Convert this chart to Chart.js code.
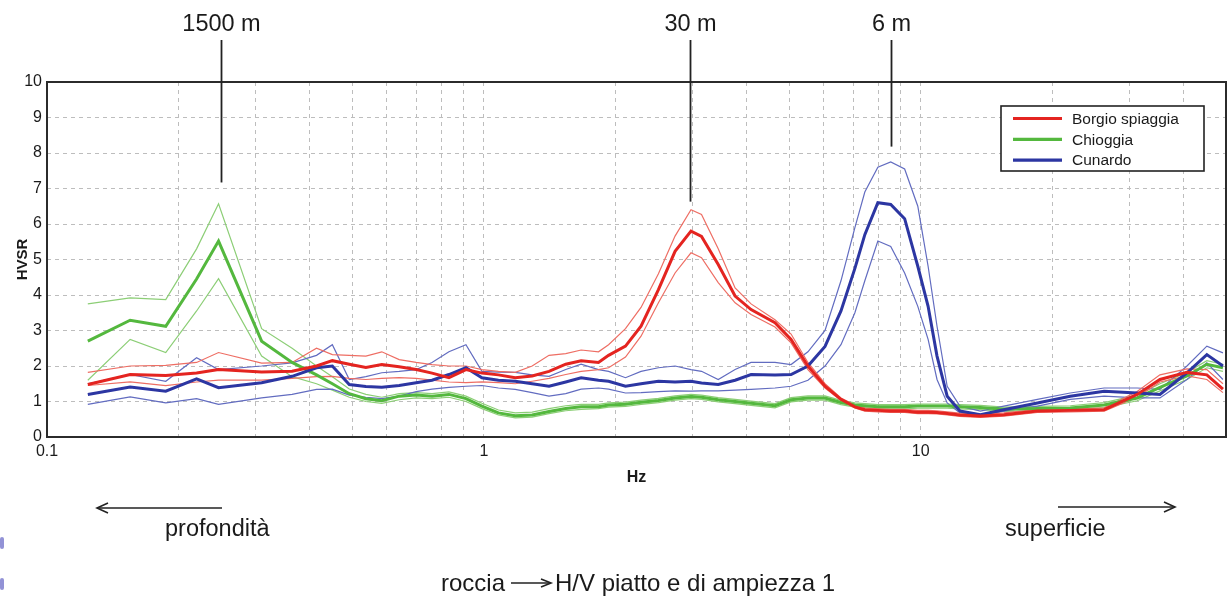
<!DOCTYPE html>
<html>
<head>
<meta charset="utf-8">
<script src="https://cdn.jsdelivr.net/npm/chart.js@4.4.1/dist/chart.umd.min.js"></script>
<style>
html,body{margin:0;padding:0;background:#fff;}
#wrap{position:relative;width:1231px;height:599px;overflow:hidden;font-family:"Liberation Sans",Arial,sans-serif;color:#1a1a1a;}
#c{position:absolute;left:0;top:0;}
.t{position:absolute;white-space:nowrap;line-height:1;font-size:23.5px;}
svg{position:absolute;left:0;top:0;}
.blob{position:absolute;background:rgba(110,110,200,0.75);border-radius:2px;}
</style>
</head>
<body>
<div id="wrap">
<canvas id="c" width="1231" height="599"></canvas>
<svg width="1231" height="599">
  <g stroke="#222" stroke-width="1.6" fill="none">
    <line x1="97" y1="508" x2="222" y2="508"/>
    <polyline points="108,503 97,508 108,513"/>
    <line x1="1058" y1="507" x2="1175" y2="507"/>
    <polyline points="1164,502 1175,507 1164,512"/>
    <line x1="511" y1="583" x2="550" y2="583"/>
    <polyline points="541,579 551,583 541,587"/>
  </g>
</svg>
<div class="t" style="left:165px;top:517px">profondità</div>
<div class="t" style="left:1005px;top:517px">superficie</div>
<div class="t" style="left:441px;top:571px;font-size:24px">roccia</div>
<div class="t" style="left:555px;top:571px;font-size:24px">H/V piatto e di ampiezza 1</div>
<div class="blob" style="left:0;top:537px;width:4px;height:12px"></div>
<div class="blob" style="left:0;top:578px;width:4px;height:12px"></div>
</div>
<script>
// ---- data ----
const freqHz = [0.124,0.155,0.187,0.220,0.247,0.310,0.364,0.414,0.450,0.492,0.537,0.584,0.640,0.700,0.761,0.832,0.910,0.990,1.08,1.18,1.29,1.41,1.54,1.67,1.83,1.93,2.11,2.29,2.51,2.74,2.98,3.15,3.44,3.76,4.09,4.64,5.05,5.52,6.04,6.57,7.07,7.45,7.98,8.54,9.19,9.85,10.4,10.9,11.5,12.3,13.7,15.5,18.5,22.0,26.3,31.3,35.3,40.7,45.2,49.2];

const redMean  = [1.48,1.76,1.73,1.80,1.90,1.83,1.85,2.00,2.15,2.05,1.96,2.04,1.98,1.90,1.80,1.67,1.90,1.80,1.75,1.67,1.72,1.85,2.05,2.15,2.10,2.30,2.56,3.12,4.15,5.23,5.80,5.65,4.86,3.97,3.59,3.22,2.75,2.00,1.43,1.06,0.85,0.77,0.75,0.73,0.73,0.70,0.70,0.69,0.66,0.62,0.59,0.63,0.73,0.75,0.77,1.20,1.62,1.82,1.75,1.35];
const redUpper = [1.82,2.00,2.02,2.10,2.38,2.08,2.10,2.50,2.32,2.30,2.28,2.40,2.18,2.10,2.04,2.00,2.00,1.90,1.85,1.82,2.00,2.30,2.35,2.45,2.40,2.60,3.05,3.65,4.60,5.66,6.40,6.27,5.30,4.20,3.75,3.30,2.90,2.10,1.50,1.10,0.90,0.82,0.80,0.78,0.78,0.75,0.75,0.74,0.71,0.67,0.64,0.68,0.78,0.80,0.82,1.28,1.75,1.92,1.90,1.50];
const redLower = [1.45,1.55,1.45,1.55,1.60,1.60,1.65,1.70,1.71,1.65,1.62,1.65,1.67,1.65,1.60,1.55,1.53,1.55,1.53,1.50,1.57,1.65,1.76,1.85,1.90,1.95,2.25,2.84,3.78,4.62,5.19,5.05,4.35,3.78,3.45,3.10,2.65,1.90,1.38,1.03,0.82,0.73,0.71,0.69,0.69,0.66,0.66,0.65,0.62,0.58,0.55,0.59,0.69,0.71,0.73,1.12,1.55,1.72,1.62,1.25];

const greenMean  = [2.70,3.29,3.12,4.45,5.52,2.70,2.10,1.75,1.50,1.22,1.08,1.02,1.15,1.18,1.15,1.20,1.08,0.87,0.68,0.60,0.62,0.72,0.80,0.85,0.85,0.90,0.92,0.98,1.03,1.10,1.14,1.12,1.05,1.00,0.95,0.88,1.05,1.10,1.10,0.97,0.90,0.88,0.85,0.85,0.85,0.87,0.87,0.87,0.87,0.85,0.83,0.78,0.80,0.82,0.90,1.10,1.40,1.72,2.05,1.95];
const greenUpper = [3.75,3.92,3.87,5.30,6.57,3.05,2.50,2.00,1.70,1.35,1.20,1.12,1.22,1.25,1.22,1.27,1.15,0.95,0.76,0.68,0.70,0.80,0.88,0.92,0.92,0.96,0.98,1.04,1.09,1.16,1.20,1.18,1.11,1.06,1.01,0.94,1.11,1.16,1.16,1.03,0.96,0.94,0.91,0.91,0.91,0.93,0.93,0.93,0.93,0.91,0.89,0.84,0.86,0.88,0.97,1.18,1.50,1.82,2.15,2.05];
const greenLower = [1.60,2.75,2.38,3.55,4.46,2.28,1.70,1.50,1.32,1.12,1.00,0.95,1.05,1.10,1.08,1.12,1.00,0.80,0.62,0.54,0.56,0.66,0.74,0.78,0.80,0.84,0.86,0.92,0.97,1.04,1.08,1.06,0.99,0.94,0.89,0.82,0.99,1.04,1.04,0.91,0.84,0.82,0.79,0.79,0.79,0.81,0.81,0.81,0.81,0.79,0.77,0.72,0.74,0.76,0.83,1.02,1.30,1.62,1.95,1.85];

const blueMean  = [1.20,1.41,1.29,1.64,1.39,1.53,1.71,1.95,2.00,1.48,1.42,1.40,1.45,1.53,1.60,1.76,1.95,1.67,1.60,1.57,1.50,1.43,1.55,1.67,1.60,1.57,1.43,1.50,1.57,1.55,1.57,1.52,1.48,1.60,1.76,1.75,1.76,2.00,2.55,3.55,4.75,5.70,6.60,6.55,6.15,4.81,3.68,2.28,1.15,0.73,0.63,0.77,0.96,1.15,1.29,1.24,1.20,1.81,2.32,2.00];
const blueUpper = [1.50,1.76,1.57,2.23,1.90,2.00,2.09,2.30,2.60,1.62,1.70,1.81,1.85,1.90,2.10,2.40,2.60,1.85,1.83,1.82,1.75,1.71,1.90,2.05,1.90,1.85,1.67,1.85,1.95,2.00,1.90,1.85,1.62,1.90,2.10,2.10,2.04,2.40,3.00,4.40,5.90,6.90,7.60,7.75,7.55,6.50,4.81,3.12,1.43,0.87,0.73,0.87,1.06,1.24,1.38,1.38,1.34,2.00,2.56,2.37];
const blueLower = [0.92,1.13,0.96,1.08,0.92,1.10,1.20,1.34,1.35,1.18,1.12,1.08,1.15,1.28,1.35,1.40,1.43,1.45,1.38,1.34,1.25,1.15,1.22,1.35,1.38,1.35,1.24,1.25,1.28,1.30,1.29,1.30,1.30,1.32,1.34,1.38,1.43,1.60,2.00,2.60,3.50,4.40,5.52,5.37,4.62,3.68,2.75,1.62,0.96,0.68,0.59,0.73,0.87,1.06,1.15,1.10,1.10,1.62,2.09,1.62];

const seriesNames = ['Borgio spiaggia','Chioggia','Cunardo'];
const xGridValues = [0.1,0.2,0.3,0.4,0.5,0.6,0.7,0.8,0.9,1,2,3,4,5,6,7,8,9,10,20,30,40,50];
const xMajorValues = [0.1,1,10];
const xTickLabels = ['0.1','1','10'];
const peakFreqs = [0.25,2.97,8.54];
const peakLabels = ['1500 m','30 m','6 m'];
const peakLineEnds = [7.17,6.63,8.18];

// ---- styling ----
const RED='rgb(228,36,32)', RED_T='rgb(238,110,100)';
const GREEN='rgb(84,184,62)', GREEN_T='rgb(140,206,118)';
const BLUE='rgb(44,54,162)', BLUE_T='rgb(98,108,192)';
const FONT='"Liberation Sans", Arial, sans-serif';
Chart.defaults.font.family = FONT;
Chart.defaults.color = '#1a1a1a';

const pts = vals => freqHz.map((f,i)=>({x:f,y:vals[i]}));
const thick = (d,c)=>({data:pts(d),borderColor:c,borderWidth:3,pointRadius:0,tension:0,fill:false});
const thin  = (d,c)=>({data:pts(d),borderColor:c,borderWidth:1.2,pointRadius:0,tension:0,fill:false});

const datasets = [
  thick(redMean,RED), thick(blueMean,BLUE), thick(greenMean,GREEN),
  thin(redUpper,RED_T), thin(redLower,RED_T),
  thin(blueUpper,BLUE_T), thin(blueLower,BLUE_T),
  thin(greenUpper,GREEN_T), thin(greenLower,GREEN_T)
];

const overlay = {
  id:'overlay',
  afterDraw(chart){
    const {ctx, chartArea:a, scales:{x,y}} = chart;
    ctx.save();
    // frame
    ctx.strokeStyle='#2b2b2b'; ctx.lineWidth=2;
    ctx.strokeRect(a.left, a.top, a.right-a.left, a.bottom-a.top);
    // peak markers
    ctx.fillStyle='#1a1a1a';
    ctx.font='23.5px '+FONT; ctx.textAlign='center'; ctx.textBaseline='alphabetic';
    peakFreqs.forEach((f,i)=>{
      const px = Math.round(x.getPixelForValue(f))+0.5;
      const py = y.getPixelForValue(peakLineEnds[i]);
      ctx.beginPath(); ctx.moveTo(px, a.top-42); ctx.lineTo(px, py);
      ctx.lineWidth=1.8; ctx.strokeStyle='#222'; ctx.stroke();
      ctx.fillText(peakLabels[i], px, a.top-51);
    });
    // legend box
    const bx=1001, by=106, bw=203, bh=65;
    ctx.fillStyle='#fff'; ctx.fillRect(bx,by,bw,bh);
    ctx.strokeStyle='#222'; ctx.lineWidth=1.6; ctx.strokeRect(bx,by,bw,bh);
    const cols=[RED,GREEN,BLUE];
    ctx.font='15.5px '+FONT; ctx.textAlign='left'; ctx.textBaseline='middle';
    seriesNames.forEach((n,i)=>{
      const ry = 118.5 + i*20.8;
      ctx.beginPath(); ctx.moveTo(1013,ry); ctx.lineTo(1062,ry);
      ctx.strokeStyle=cols[i]; ctx.lineWidth=3.2; ctx.stroke();
      ctx.fillStyle='#1a1a1a'; ctx.fillText(n,1072,ry+1);
    });
    ctx.restore();
  }
};

new Chart(document.getElementById('c'), {
  type:'line',
  data:{datasets},
  options:{
    responsive:false, animation:false, events:[],
    layout:{padding:{left:0,right:5,top:82,bottom:112}},
    plugins:{legend:{display:false}, tooltip:{enabled:false}},
    scales:{
      x:{
        type:'logarithmic', min:0.1, max:50,
        afterBuildTicks(s){ s.ticks = xGridValues.map(v=>({value:v})); },
        afterFit(s){ s.height = 50; },
        grid:{color:'#bdbdbd', lineWidth:1, drawTicks:false},
        border:{display:false, dash:[4,4]},
        ticks:{autoSkip:false, maxRotation:0, padding:5, font:{size:16}, color:'#1a1a1a',
          callback(v){ const i = xMajorValues.indexOf(v); return i>=0 ? xTickLabels[i] : ''; }},
        title:{display:true, text:'Hz', font:{size:16, weight:'bold'}, padding:{top:9,bottom:0}, color:'#1a1a1a'}
      },
      y:{
        min:0, max:10,
        afterFit(s){ s.width = 47; },
        grid:{color:'#bdbdbd', lineWidth:1, drawTicks:false},
        border:{display:false, dash:[4,4]},
        ticks:{stepSize:1, padding:5, font:{size:16}, color:'#1a1a1a'},
        title:{display:true, text:'HVSR', font:{size:15, weight:'bold'}, padding:{top:14,bottom:0}, color:'#1a1a1a'}
      }
    }
  },
  plugins:[overlay]
});
</script>
</body>
</html>
